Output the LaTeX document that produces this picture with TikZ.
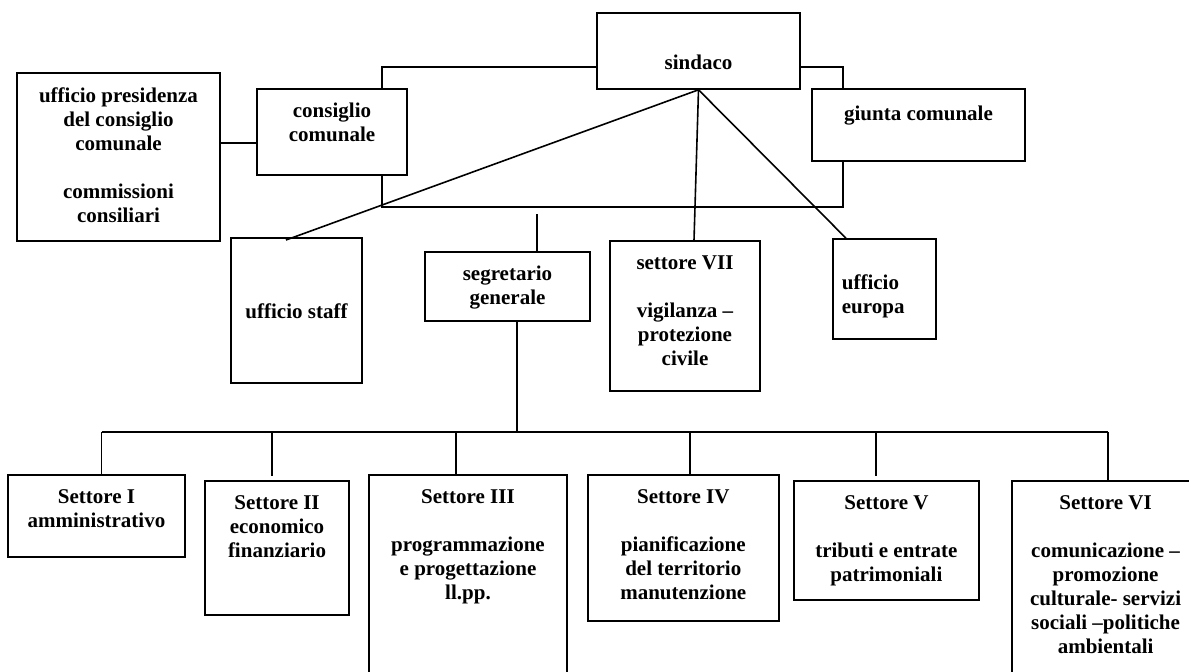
\documentclass[tikz,border=0pt]{standalone}
\usepackage{fontspec}
\setmainfont{Liberation Serif}
\usetikzlibrary{fit}
\tikzset{
  box/.style={draw, line width=0.8pt, inner sep=0pt, fit={#1}},
  lbl/.style={anchor=north, inner sep=0pt, align=center, execute at begin node=\strut,
    font=\fontsize{10.5}{12}\selectfont\bfseries},
  conn/.style={line width=0.8pt}
}
\begin{document}
\begin{tikzpicture}[x=0.5pt,y=-0.5pt]
\useasboundingbox (0,0) rectangle (1189,671);
\clip (0,0) rectangle (1189,671);
% boxes
\node[box={(17,73) (220,241)}] (pres) {};
\node[box={(257,89) (407,175)}] (cons) {};
\node[box={(597,13) (800,89)}] (sindaco) {};
\node[box={(812,89) (1025,161)}] (giunta) {};
\node[box={(231,238) (362,383)}] (staff) {};
\node[box={(425,252) (590,321)}] (segr) {};
\node[box={(610,241) (760,391)}] (sette) {};
\node[box={(833,239) (936,339)}] (europa) {};
\node[box={(8,475) (185,557)}] (s1) {};
\node[box={(205,481) (349,615)}] (s2) {};
\node[box={(369,475) (567,700)}] (s3) {};
\node[box={(588,475) (779,621)}] (s4) {};
\node[box={(794,481) (979,600)}] (s5) {};
\node[box={(1012,481) (1220,700)}] (s6) {};
% labels
\node[lbl] (tpres) at (118.5,87) {ufficio presidenza\\del consiglio\\comunale\\[12pt]commissioni\\consiliari};
\node[lbl] (tcons) at (332,103) {consiglio\\comunale};
\node[lbl] (tsind) at (698.5,52.5) {sindaco};
\node[lbl] (tgiun) at (918.5,103.5) {giunta comunale};
\node[lbl] (tstaff) at (296.5,301) {ufficio staff};
\node[lbl] (tsegr) at (507.5,266) {segretario\\generale};
\node[lbl] (tsette) at (685,255) {settore VII\\[12pt]vigilanza --\\protezione\\civile};
\node[lbl, anchor=north west, align=left] (teur) at (841.5,274) {ufficio\\europa};
\node[lbl] (ts1) at (96.5,489) {Settore I\\amministrativo};
\node[lbl] (ts2) at (277,495) {Settore II\\economico\\finanziario};
\node[lbl] (ts3) at (468,489) {Settore III\\[12pt]programmazione\\e progettazione\\ll.pp.};
\node[lbl] (ts4) at (683.3,489) {Settore IV\\[12pt]pianificazione\\del territorio\\manutenzione};
\node[lbl] (ts5) at (886.4,495) {Settore V\\[12pt]tributi e entrate\\patrimoniali};
\node[lbl] (ts6) at (1105.6,495) {Settore VI\\[12pt]comunicazione --\\promozione\\culturale- servizi\\sociali --politiche\\ambientali};
% helper coordinates
\coordinate (c143) at (0,143);
\coordinate (lx) at (382,67);
\coordinate (rx) at (843,207);
\coordinate (sg) at (537,214);
\coordinate (staffx) at (286,240);
\coordinate (settex) at (694,0);
\coordinate (eurx) at (846,0);
\coordinate (bus) at (517,432);
\coordinate (d1) at (101.5,0);
\coordinate (d2) at (272,476);
\coordinate (d3) at (456,0);
\coordinate (d4) at (690,0);
\coordinate (d5) at (876,476);
\coordinate (d6) at (1108,0);
% connectors
\draw[conn] (pres.east |- c143) -- (cons.west |- c143);
\draw[conn] (cons.north -| lx) -- (lx) -- (sindaco.west |- lx);
\draw[conn] (sindaco.east |- lx) -- (rx |- lx) -- (giunta.north -| rx);
\draw[conn] (giunta.south -| rx) -- (rx) -- (lx |- rx) -- (cons.south -| lx);
\draw[conn] (sg) -- (segr.north -| sg);
\draw[conn] (sindaco.south) -- (staffx);
\draw[conn] (sindaco.south) -- (sette.north -| settex);
\draw[conn] (sindaco.south) -- (europa.north -| eurx);
\draw[conn] (segr.south -| bus) -- (bus);
\draw[conn] (bus -| d1) -- (bus -| d6);
\draw[conn] (bus -| d1) -- (s1.north -| d1);
\draw[conn] (bus -| d2) -- (d2);
\draw[conn] (bus -| d3) -- (s3.north -| d3);
\draw[conn] (bus -| d4) -- (s4.north -| d4);
\draw[conn] (bus -| d5) -- (d5);
\draw[conn] (bus -| d6) -- (s6.north -| d6);
\end{tikzpicture}
\end{document}
